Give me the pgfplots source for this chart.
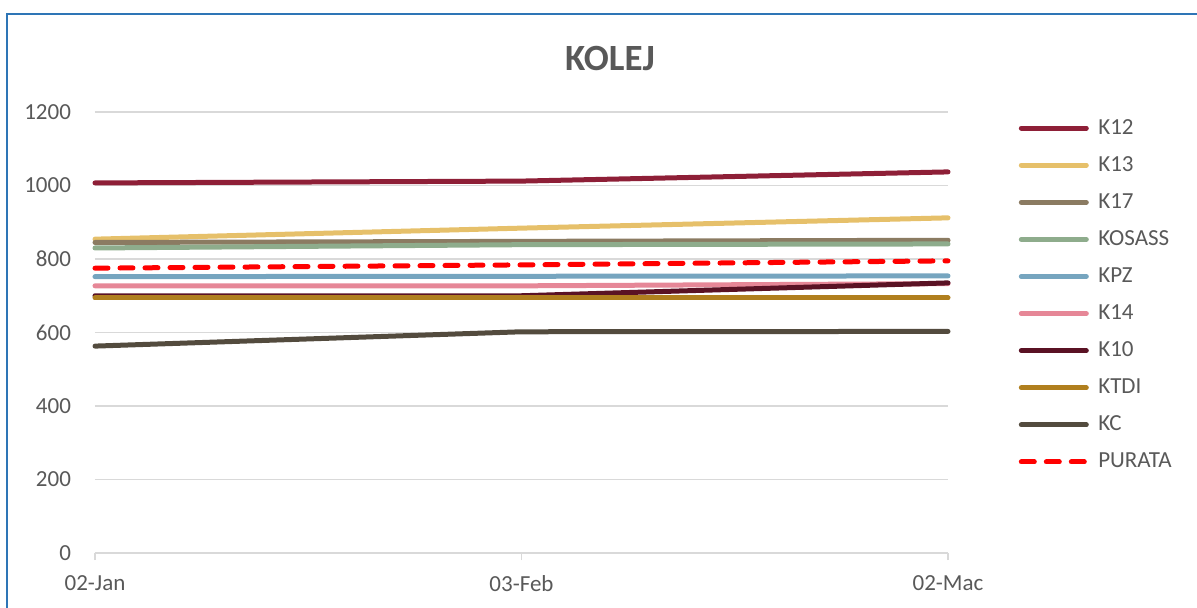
\documentclass[border=0pt]{standalone}
\usepackage{pgfplots}
\pgfplotsset{compat=1.18}
\usepackage{fontspec}
\setmainfont{Carlito}
\definecolor{borderblue}{HTML}{2E75B6}
\definecolor{txtgray}{HTML}{595959}
\definecolor{gridgray}{HTML}{D9D9D9}
\definecolor{cK12}{HTML}{8E1F37}
\definecolor{cK13}{HTML}{E6C06A}
\definecolor{cK17}{HTML}{8B7B62}
\definecolor{cKOSASS}{HTML}{8EAC8C}
\definecolor{cKPZ}{HTML}{76A5BF}
\definecolor{cK14}{HTML}{E68797}
\definecolor{cK10}{HTML}{5A1224}
\definecolor{cKTDI}{HTML}{B07F1E}
\definecolor{cKC}{HTML}{534B3E}
\begin{document}
\begin{tikzpicture}[x=1pt,y=1pt]
\path[use as bounding box] (0,0) rectangle (598.5,303.5);
\draw[color=borderblue, line width=1pt] (3.5,-5) -- (3.5,296.5) -- (605,296.5);
\node[font=\bfseries\fontsize{18.5}{22}\selectfont, text=txtgray] at (305,274.5) {KOLEJ};
\begin{axis}[
  at={(47.5pt,27pt)}, anchor=south west,
  scale only axis, width=426.5pt, height=220.5pt,
  xmin=0, xmax=2, ymin=0, ymax=1200,
  clip=false,
  axis x line=bottom, axis y line=left,
  y axis line style={draw=none},
  x axis line style={draw=gridgray, line width=0.6pt, -},
  xtick={0,1,2}, xticklabels={02-Jan,03-Feb,02-Mac},
  ytick={0,200,...,1200},
  ymajorgrids, grid style={draw=gridgray, line width=0.6pt},
  xtick style={draw=gridgray, line width=0.6pt},
  ytick style={draw=none},
  tick align=outside, major tick length=3.5pt,
  xticklabel style={yshift=-4pt},
  yticklabel style={xshift=-5pt},
  ticklabel style={font=\fontsize{11.5}{13}\selectfont, text=txtgray},
  /pgf/number format/assume math mode=true,
  /pgf/number format/1000 sep={},
  every axis plot/.append style={line width=2.5pt, line cap=round, line join=round},
  legend image code/.code={\draw[#1] (1.25pt,0pt) -- (33.75pt,0pt); \path (37pt,0pt);},
  legend cell align=left,
  legend style={at={(1.0755,1.003)}, anchor=north west, draw=none, fill=none,
    font=\fontsize{11.5}{13}\selectfont, text=txtgray,
    row sep=5.55pt, nodes={text height=8pt, text depth=2pt, inner sep=1.5pt}},
]
\addplot[cK12] coordinates {(0,1007) (1,1012) (2,1037)};
\addlegendentry{K12}
\addplot[cK13] coordinates {(0,854) (1,884) (2,912)};
\addlegendentry{K13}
\addplot[cK17] coordinates {(0,845) (1,848) (2,851)};
\addlegendentry{K17}
\addplot[cKOSASS] coordinates {(0,830) (1,839) (2,841)};
\addlegendentry{KOSASS}
\addplot[cKPZ] coordinates {(0,752) (1,753) (2,754)};
\addlegendentry{KPZ}
\addplot[cK14] coordinates {(0,727) (1,727) (2,733)};
\addlegendentry{K14}
\addplot[cK10] coordinates {(0,700) (1,700) (2,735)};
\addlegendentry{K10}
\addplot[cKTDI] coordinates {(0,694) (1,694) (2,694)};
\addlegendentry{KTDI}
\addplot[cKC] coordinates {(0,563) (1,602) (2,603)};
\addlegendentry{KC}
\addplot[red, dash pattern=on 6.5pt off 6pt] coordinates {(0,775) (1,784) (2,795)};
\addlegendentry{PURATA}
\end{axis}
\end{tikzpicture}
\end{document}
